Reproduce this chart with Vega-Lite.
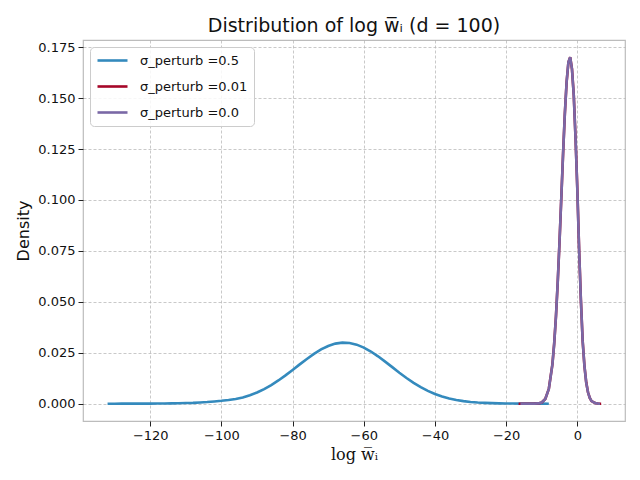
{
  "$schema": "https://vega.github.io/schema/vega-lite/v6.json",
  "autosize": "none",
  "width": 542,
  "height": 381,
  "padding": {"left": 83, "top": 40, "right": 15, "bottom": 59},
  "background": "white",
  "config": {
    "view": {"stroke": "#bcbcbc", "strokeWidth": 1.2},
    "font": "DejaVu Sans",
    "axis": {
      "domain": false,
      "grid": true,
      "gridColor": "#b2b2b2",
      "gridDash": [3, 2],
      "gridWidth": 0.7,
      "tickColor": "#222222",
      "tickSize": 5,
      "tickWidth": 1,
      "labelFont": "DejaVu Sans",
      "labelFontSize": 13,
      "labelColor": "#111111",
      "titleFontWeight": "normal",
      "titleColor": "#111111"
    }
  },
  "title": {
    "text": "Distribution of log w̅ᵢ (d = 100)",
    "font": "DejaVu Sans",
    "fontSize": 19,
    "fontWeight": "normal",
    "color": "#111111",
    "anchor": "middle",
    "frame": "group",
    "offset": 4
  },
  "data": {
    "values": [
      {"s": "0.5", "x": -132, "y": 0.0},
      {"s": "0.5", "x": -130, "y": 0.0},
      {"s": "0.5", "x": -128, "y": 0.00001},
      {"s": "0.5", "x": -126, "y": 0.00001},
      {"s": "0.5", "x": -124, "y": 0.00002},
      {"s": "0.5", "x": -122, "y": 0.00003},
      {"s": "0.5", "x": -120, "y": 0.00005},
      {"s": "0.5", "x": -118, "y": 0.00007},
      {"s": "0.5", "x": -116, "y": 0.0001},
      {"s": "0.5", "x": -114, "y": 0.00015},
      {"s": "0.5", "x": -112, "y": 0.0002},
      {"s": "0.5", "x": -110, "y": 0.0003},
      {"s": "0.5", "x": -108, "y": 0.0004},
      {"s": "0.5", "x": -106, "y": 0.0006},
      {"s": "0.5", "x": -104, "y": 0.0008},
      {"s": "0.5", "x": -102, "y": 0.0011},
      {"s": "0.5", "x": -100, "y": 0.0014},
      {"s": "0.5", "x": -98, "y": 0.0018},
      {"s": "0.5", "x": -96, "y": 0.0023},
      {"s": "0.5", "x": -94, "y": 0.00302},
      {"s": "0.5", "x": -92, "y": 0.00411},
      {"s": "0.5", "x": -90, "y": 0.0055},
      {"s": "0.5", "x": -88, "y": 0.00717},
      {"s": "0.5", "x": -86, "y": 0.00915},
      {"s": "0.5", "x": -84, "y": 0.0114},
      {"s": "0.5", "x": -82, "y": 0.0139},
      {"s": "0.5", "x": -80, "y": 0.01656},
      {"s": "0.5", "x": -78, "y": 0.01929},
      {"s": "0.5", "x": -76, "y": 0.02195},
      {"s": "0.5", "x": -74, "y": 0.02446},
      {"s": "0.5", "x": -72, "y": 0.02662},
      {"s": "0.5", "x": -70, "y": 0.02833},
      {"s": "0.5", "x": -68, "y": 0.02947},
      {"s": "0.5", "x": -66, "y": 0.02998},
      {"s": "0.5", "x": -64, "y": 0.02981},
      {"s": "0.5", "x": -62, "y": 0.02898},
      {"s": "0.5", "x": -60, "y": 0.02754},
      {"s": "0.5", "x": -58, "y": 0.02559},
      {"s": "0.5", "x": -56, "y": 0.02325},
      {"s": "0.5", "x": -54, "y": 0.02064},
      {"s": "0.5", "x": -52, "y": 0.01793},
      {"s": "0.5", "x": -50, "y": 0.01521},
      {"s": "0.5", "x": -48, "y": 0.01262},
      {"s": "0.5", "x": -46, "y": 0.01024},
      {"s": "0.5", "x": -44, "y": 0.00813},
      {"s": "0.5", "x": -42, "y": 0.0063},
      {"s": "0.5", "x": -40, "y": 0.00477},
      {"s": "0.5", "x": -38, "y": 0.00354},
      {"s": "0.5", "x": -36, "y": 0.00256},
      {"s": "0.5", "x": -34, "y": 0.00182},
      {"s": "0.5", "x": -32, "y": 0.00126},
      {"s": "0.5", "x": -30, "y": 0.00085},
      {"s": "0.5", "x": -28, "y": 0.00057},
      {"s": "0.5", "x": -26, "y": 0.00038},
      {"s": "0.5", "x": -24, "y": 0.00025},
      {"s": "0.5", "x": -22, "y": 0.00016},
      {"s": "0.5", "x": -20, "y": 0.0001},
      {"s": "0.5", "x": -18, "y": 0.00006},
      {"s": "0.5", "x": -16, "y": 0.00004},
      {"s": "0.5", "x": -14, "y": 0.00002},
      {"s": "0.5", "x": -12, "y": 0.00001},
      {"s": "0.5", "x": -10, "y": 0.00001},
      {"s": "0.5", "x": -8, "y": 0.0},

      {"s": "0.01", "x": -16.5, "y": 0.0},
      {"s": "0.01", "x": -15, "y": 0.0},
      {"s": "0.01", "x": -14, "y": 0.0},
      {"s": "0.01", "x": -13, "y": 0.0},
      {"s": "0.01", "x": -12, "y": 0.00002},
      {"s": "0.01", "x": -11, "y": 0.00013},
      {"s": "0.01", "x": -10, "y": 0.0006},
      {"s": "0.01", "x": -9, "y": 0.0023},
      {"s": "0.01", "x": -8, "y": 0.0073},
      {"s": "0.01", "x": -7, "y": 0.0193},
      {"s": "0.01", "x": -6.5, "y": 0.0295},
      {"s": "0.01", "x": -6, "y": 0.0429},
      {"s": "0.01", "x": -5.5, "y": 0.0597},
      {"s": "0.01", "x": -5, "y": 0.0794},
      {"s": "0.01", "x": -4.5, "y": 0.1009},
      {"s": "0.01", "x": -4, "y": 0.1226},
      {"s": "0.01", "x": -3.5, "y": 0.1424},
      {"s": "0.01", "x": -3, "y": 0.158},
      {"s": "0.01", "x": -2.5, "y": 0.1676},
      {"s": "0.01", "x": -2, "y": 0.17},
      {"s": "0.01", "x": -1.5, "y": 0.1643},
      {"s": "0.01", "x": -1, "y": 0.1516},
      {"s": "0.01", "x": -0.5, "y": 0.1305},
      {"s": "0.01", "x": 0, "y": 0.1055},
      {"s": "0.01", "x": 0.5, "y": 0.0761},
      {"s": "0.01", "x": 1, "y": 0.0511},
      {"s": "0.01", "x": 1.5, "y": 0.0309},
      {"s": "0.01", "x": 2, "y": 0.0186},
      {"s": "0.01", "x": 2.5, "y": 0.0105},
      {"s": "0.01", "x": 3, "y": 0.0056},
      {"s": "0.01", "x": 3.5, "y": 0.0028},
      {"s": "0.01", "x": 4, "y": 0.0013},
      {"s": "0.01", "x": 5, "y": 0.0003},
      {"s": "0.01", "x": 6, "y": 0.0},
      {"s": "0.01", "x": 6.7, "y": 0.0},

      {"s": "0.0", "x": -16, "y": 0.0},
      {"s": "0.0", "x": -15, "y": 0.0},
      {"s": "0.0", "x": -14, "y": 0.0},
      {"s": "0.0", "x": -13, "y": 0.0},
      {"s": "0.0", "x": -12, "y": 0.00002},
      {"s": "0.0", "x": -11, "y": 0.00014},
      {"s": "0.0", "x": -10, "y": 0.0006},
      {"s": "0.0", "x": -9, "y": 0.0023},
      {"s": "0.0", "x": -8, "y": 0.0072},
      {"s": "0.0", "x": -7, "y": 0.0192},
      {"s": "0.0", "x": -6.5, "y": 0.0294},
      {"s": "0.0", "x": -6, "y": 0.0428},
      {"s": "0.0", "x": -5.5, "y": 0.0598},
      {"s": "0.0", "x": -5, "y": 0.0795},
      {"s": "0.0", "x": -4.5, "y": 0.1011},
      {"s": "0.0", "x": -4, "y": 0.1228},
      {"s": "0.0", "x": -3.5, "y": 0.1425},
      {"s": "0.0", "x": -3, "y": 0.1581},
      {"s": "0.0", "x": -2.5, "y": 0.1677},
      {"s": "0.0", "x": -2, "y": 0.1701},
      {"s": "0.0", "x": -1.5, "y": 0.1642},
      {"s": "0.0", "x": -1, "y": 0.1514},
      {"s": "0.0", "x": -0.5, "y": 0.1303},
      {"s": "0.0", "x": 0, "y": 0.1053},
      {"s": "0.0", "x": 0.5, "y": 0.076},
      {"s": "0.0", "x": 1, "y": 0.051},
      {"s": "0.0", "x": 1.5, "y": 0.0308},
      {"s": "0.0", "x": 2, "y": 0.0185},
      {"s": "0.0", "x": 2.5, "y": 0.0104},
      {"s": "0.0", "x": 3, "y": 0.0056},
      {"s": "0.0", "x": 3.5, "y": 0.0028},
      {"s": "0.0", "x": 4, "y": 0.0013},
      {"s": "0.0", "x": 5, "y": 0.0003},
      {"s": "0.0", "x": 6, "y": 0.0},
      {"s": "0.0", "x": 6.4, "y": 0.0}
    ]
  },
  "encoding": {
    "x": {
      "field": "x",
      "type": "quantitative",
      "scale": {"domain": [-138.9, 13.4], "nice": false, "zero": false},
      "axis": {
        "values": [-120, -100, -80, -60, -40, -20, 0],
        "title": "log w̅ᵢ",
        "titleFont": "DejaVu Serif",
        "titleFontSize": 16,
        "titlePadding": 4,
        "labelPadding": 3
      }
    },
    "y": {
      "field": "y",
      "type": "quantitative",
      "scale": {"domain": [-0.0085, 0.1785], "nice": false, "zero": false},
      "axis": {
        "values": [0, 0.025, 0.05, 0.075, 0.1, 0.125, 0.15, 0.175],
        "format": ".3f",
        "title": "Density",
        "titleFont": "DejaVu Sans",
        "titleFontSize": 16,
        "titlePadding": 6,
        "labelPadding": 3
      }
    },
    "color": {
      "field": "s",
      "type": "nominal",
      "scale": {"domain": ["0.5", "0.01", "0.0"], "range": ["#348ABD", "#A60628", "#7A68A6"]},
      "legend": {
        "title": null,
        "orient": "none",
        "legendX": 7,
        "legendY": 7,
        "symbolType": "M-1,0H4",
        "symbolSize": 144,
        "symbolStrokeWidth": 2.6,
        "symbolFillColor": "transparent",
        "labelExpr": "'σ_perturb =' + datum.label",
        "labelFont": "DejaVu Sans",
        "labelFontSize": 13,
        "labelColor": "#111111",
        "labelOffset": 29,
        "rowPadding": 11,
        "padding": 6,
        "fillColor": "rgba(255,255,255,0.85)",
        "strokeColor": "#cccccc",
        "cornerRadius": 4
      }
    }
  },
  "layer": [
    {"transform": [{"filter": "datum.s === '0.5'"}], "mark": {"type": "line", "strokeWidth": 2.6, "clip": true}},
    {"transform": [{"filter": "datum.s === '0.01'"}], "mark": {"type": "line", "strokeWidth": 2.6, "clip": true}},
    {"transform": [{"filter": "datum.s === '0.0'"}], "mark": {"type": "line", "strokeWidth": 2.6, "clip": true}}
  ]
}
